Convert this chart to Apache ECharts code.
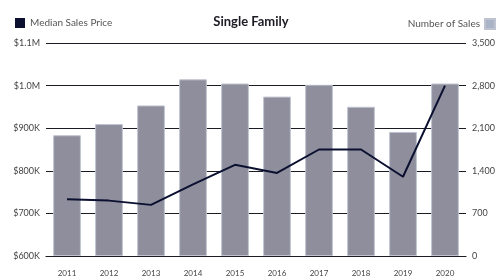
<!DOCTYPE html>
<html>
<head>
<meta charset="utf-8">
<script src="https://cdn.jsdelivr.net/npm/echarts@6/dist/echarts.min.js"></script>
<style>
  html, body { margin: 0; padding: 0; background: #fff; }
  #chart { width: 502px; height: 277px; }
</style>
</head>
<body>
<div id="chart"></div>
<script>
const years = ['2011', '2012', '2013', '2014', '2015', '2016', '2017', '2018', '2019', '2020'];
const medianPrice = [733000, 730000, 720000, 768000, 814000, 795000, 850000, 850000, 786000, 1000000];
const salesCount = [1984, 2168, 2474, 2903, 2834, 2619, 2813, 2452, 2039, 2834];

const font = 'Lato';
const chart = echarts.init(document.getElementById('chart'));

chart.setOption({
  animation: false,
  textStyle: { fontFamily: font },
  title: {
    text: 'Single Family',
    left: 'center',
    top: 10,
    textStyle: { fontSize: 13, fontWeight: 'bold', color: '#1b1b24', fontFamily: font }
  },
  legend: [
    {
      left: 10, top: 13,
      itemWidth: 10, itemHeight: 10, itemGap: 6,
      icon: 'rect',
      data: [{ name: 'Median Sales Price', itemStyle: { color: '#0b1030' } }],
      textStyle: { fontSize: 10, color: '#555', fontFamily: font }
    },
    {
      right: 1, top: 13,
      itemWidth: 10, itemHeight: 10,
      icon: 'rect', align: 'right',
      data: [{ name: 'Number of Sales', itemStyle: { color: '#a9b5c7' } }],
      textStyle: { fontSize: 10, color: '#555', fontFamily: font }
    }
  ],
  grid: { left: 46, right: 36, top: 43, bottom: 16, containLabel: false },
  xAxis: {
    type: 'category',
    data: years,
    axisLine: { lineStyle: { color: '#1b1b24', width: 1.2 } },
    axisTick: { alignWithLabel: true, inside: true, length: 5, lineStyle: { color: '#1b1b24' } },
    axisLabel: { fontSize: 8, color: '#444', margin: 13 }
  },
  yAxis: [
    {
      type: 'value',
      min: 600000, max: 1100000, interval: 100000,
      axisLine: { show: false },
      axisTick: { show: false },
      splitLine: { lineStyle: { color: '#1b1b24', width: 1.2 } },
      axisLabel: {
        fontSize: 9, color: '#444', margin: 6,
        formatter: v => v >= 1000000 ? '$' + (v / 1000000).toFixed(1) + 'M' : '$' + (v / 1000) + 'K'
      }
    },
    {
      type: 'value',
      min: 0, max: 3500, interval: 700,
      axisLine: { show: false },
      axisTick: { show: false },
      splitLine: { show: false },
      axisLabel: {
        fontSize: 9, color: '#444', margin: 6,
        formatter: v => v.toLocaleString('en-US')
      }
    }
  ],
  series: [
    {
      name: 'Number of Sales',
      type: 'bar',
      yAxisIndex: 1,
      data: salesCount,
      barWidth: '66%',
      itemStyle: { color: '#8e8e9c', borderColor: '#bfc3d0', borderWidth: 1 },
      z: 1
    },
    {
      name: 'Median Sales Price',
      type: 'line',
      yAxisIndex: 0,
      data: medianPrice,
      showSymbol: false,
      symbol: 'none',
      lineStyle: { color: '#0b1030', width: 2 },
      itemStyle: { color: '#0b1030' },
      z: 3
    }
  ]
});
</script>
</body>
</html>
